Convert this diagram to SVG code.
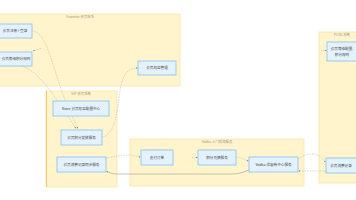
<svg xmlns="http://www.w3.org/2000/svg" width="356" height="200" viewBox="0 0 356 200">
<style>
.cl{fill:#fff4cc;stroke:#fbe6a6;stroke-width:0.8}
.ct{font-family:"Liberation Sans","Noto Sans CJK SC",sans-serif;font-size:3.4px;fill:#a09a8a;text-anchor:middle}
.nd{fill:#e3f2fd;stroke:#90c4f4;stroke-width:0.9}
.nt{font-family:"Liberation Sans","Noto Sans CJK SC",sans-serif;font-size:3.6px;fill:#444;text-anchor:middle;dominant-baseline:central}
.e{fill:none;stroke:#a8a8a8;stroke-width:0.45;stroke-dasharray:1.5 1}
.es{fill:none;stroke:#8a8a8a;stroke-width:0.5}
</style>
<defs>
<marker id="ar" viewBox="0 0 6 6" refX="5.5" refY="3" markerWidth="4" markerHeight="4" orient="auto">
<path d="M0,0.5 L6,3 L0,5.5 Z" fill="#777"/>
</marker>
</defs>
<rect width="356" height="200" fill="#ffffff"/>
<g id="cluster-top">
<rect class="cl" x="-2" y="14" width="182" height="72"/>
<text class="ct" x="80" y="17.5">Yosemite 会员体系</text>
</g>
<g id="cluster-vip">
<rect class="cl" x="46" y="91" width="71" height="96"/>
<line x1="46.5" y1="91" x2="46.5" y2="187" stroke="#f7c46c" stroke-width="1"/>
<text class="ct" x="81" y="94.5">VIP 会员系统</text>
</g>
<g id="cluster-vodka">
<rect class="cl" x="130" y="139" width="174" height="47"/>
<text class="ct" x="217" y="142.5">Vodka 入门前端服务</text>
</g>
<g id="cluster-pos">
<rect class="cl" x="319" y="32" width="40" height="151"/>
<text class="ct" x="342" y="35.5">POSI-系统</text>
</g>
<g id="connectors">
<path class="e" d="M32,31 C44,31 50,55 58,80 S74,120 78,128.5" marker-end="url(#ar)"/>
<path class="e" d="M22,66 C40,72 56,98 76,128.5" marker-end="url(#ar)"/>
<path class="e" d="M41,48.5 L33,51" marker-end="url(#ar)"/>
<path class="e" d="M102,137 C114,135 117,115 119,98 S124,68 137.5,68" marker-end="url(#ar)"/>
<path class="e" d="M106,158 C114,157 120,155 128,155 C134,155 137,157 140.5,157" marker-end="url(#ar)"/>
<path class="e" d="M192,157.5 L197.5,157.5" marker-end="url(#ar)"/>
<path class="e" d="M236,157 C242,157 244,160 248.5,161" marker-end="url(#ar)"/>
<path class="e" d="M298,159 C303,156 306,154 312,154 C320,154 322,159 325.5,162" marker-end="url(#ar)"/>
<path class="e" d="M326,171 L298.5,171" marker-end="url(#ar)"/>
<path class="e" d="M321,50.5 L326.5,50.5" marker-end="url(#ar)"/>
<path class="es" d="M249,170 C243,172 240,174 230,174 L116,174 C111,174 109,172 106.5,171.5" marker-end="url(#ar)"/>
</g>
<g id="node-a">
<rect class="nd" x="-10" y="24" width="42" height="14"/>
<text class="nt" x="15" y="31">会员注册 / 登录</text>
</g>
<g id="node-b">
<rect class="nd" x="-10" y="52" width="42" height="14"/>
<text class="nt" x="16" y="59">会员等级积分规则</text>
</g>
<g id="node-c">
<rect class="nd" x="138" y="61" width="38" height="14"/>
<text class="nt" x="157" y="68">会员权益管理</text>
</g>
<g id="node-d">
<rect class="nd" x="53" y="101" width="56" height="15"/>
<text class="nt" x="81" y="108.5">Store 会员权益配置中心</text>
</g>
<g id="node-e">
<rect class="nd" x="61" y="130" width="41" height="15"/>
<text class="nt" x="81.5" y="137.5">会员积分发放服务</text>
</g>
<g id="node-f">
<rect class="nd" x="57" y="157" width="49" height="15"/>
<text class="nt" x="81.5" y="164.5">会员消费记录同步服务</text>
</g>
<g id="node-g">
<rect class="nd" x="141" y="150" width="32" height="15"/>
<text class="nt" x="157" y="157.5">支付订单</text>
</g>
<g id="node-h">
<rect class="nd" x="198" y="150" width="38" height="15"/>
<text class="nt" x="217" y="157.5">积分兑换服务</text>
</g>
<g id="node-i">
<rect class="nd" x="249" y="157" width="49" height="15"/>
<text class="nt" x="273.5" y="164.5">Vodka 优惠券中心服务</text>
</g>
<g id="node-j">
<rect class="nd" x="327" y="42" width="36" height="19"/>
<text class="nt" x="342" y="49">会员等级配置,</text>
<text class="nt" x="342" y="54.5">积分规则</text>
</g>
<g id="node-k">
<rect class="nd" x="326" y="158" width="36" height="15"/>
<text class="nt" x="341" y="165.5">会员消费记录</text>
</g>
</svg>
